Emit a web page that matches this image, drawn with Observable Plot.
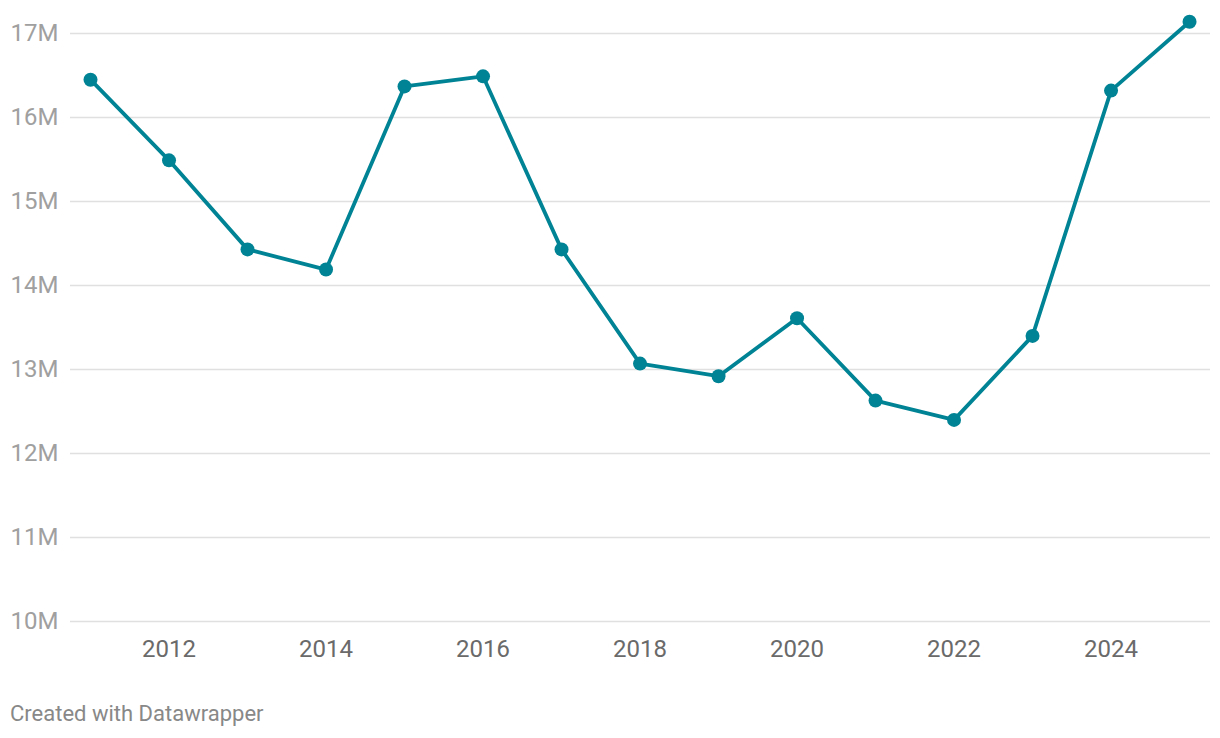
<!DOCTYPE html>
<html>
<head>
<meta charset="utf-8">
<script src="https://cdn.jsdelivr.net/npm/d3@7"></script>
<script src="https://cdn.jsdelivr.net/npm/@observablehq/plot@0.6"></script>
<style>
  html, body { margin: 0; padding: 0; background: #fff; }
  body { font-family: Roboto, "Noto Sans", sans-serif; width: 1220px; height: 738px; position: relative; overflow: hidden; }
  #chart svg { display: block; }
  #caption { position: absolute; left: 10px; top: 700px; font-size: 22px; line-height: 28px; color: #888; }
</style>
</head>
<body>
<div id="chart"></div>
<div id="caption">Created with Datawrapper</div>
<script>
const years = [2011, 2012, 2013, 2014, 2015, 2016, 2017, 2018, 2019, 2020, 2021, 2022, 2023, 2024, 2025];
const values = [16.45, 15.49, 14.43, 14.19, 16.37, 16.49, 14.43, 13.07, 12.92, 13.61, 12.63, 12.40, 13.40, 16.32, 17.14];
const yTicks = [10, 11, 12, 13, 14, 15, 16, 17];
const xTicks = [2012, 2014, 2016, 2018, 2020, 2022, 2024];

const data = years.map((y, i) => ({year: y, value: values[i]}));

const chart = Plot.plot({
  width: 1220,
  height: 680,
  marginLeft: 70,
  marginRight: 10,
  marginTop: 33,
  marginBottom: 59,
  style: {fontFamily: "Roboto, sans-serif", fontSize: "24px", background: "#fff"},
  x: {domain: [2010.745, 2025.267], ticks: xTicks, tickFormat: "d"},
  y: {domain: [10, 17], ticks: yTicks, tickFormat: d => d + "M"},
  marks: [
    Plot.gridY(yTicks, {stroke: "#e0e0e0", strokeOpacity: 1, strokeWidth: 1.5}),
    Plot.axisY(yTicks, {tickSize: 0, tickPadding: 0, textAnchor: "start", dx: -60, fill: "#a0a0a0", fontSize: 24, label: null, tickFormat: d => d + "M"}),
    Plot.axisX(xTicks, {tickSize: 0, tickPadding: 18, fill: "#6a6a6a", fontSize: 24, label: null, tickFormat: "d"}),
    Plot.line(data, {x: "year", y: "value", stroke: "#008394", strokeWidth: 3.8}),
    Plot.dot(data, {x: "year", y: "value", fill: "#008394", r: 7})
  ]
});
document.getElementById("chart").appendChild(chart);
</script>
</body>
</html>
